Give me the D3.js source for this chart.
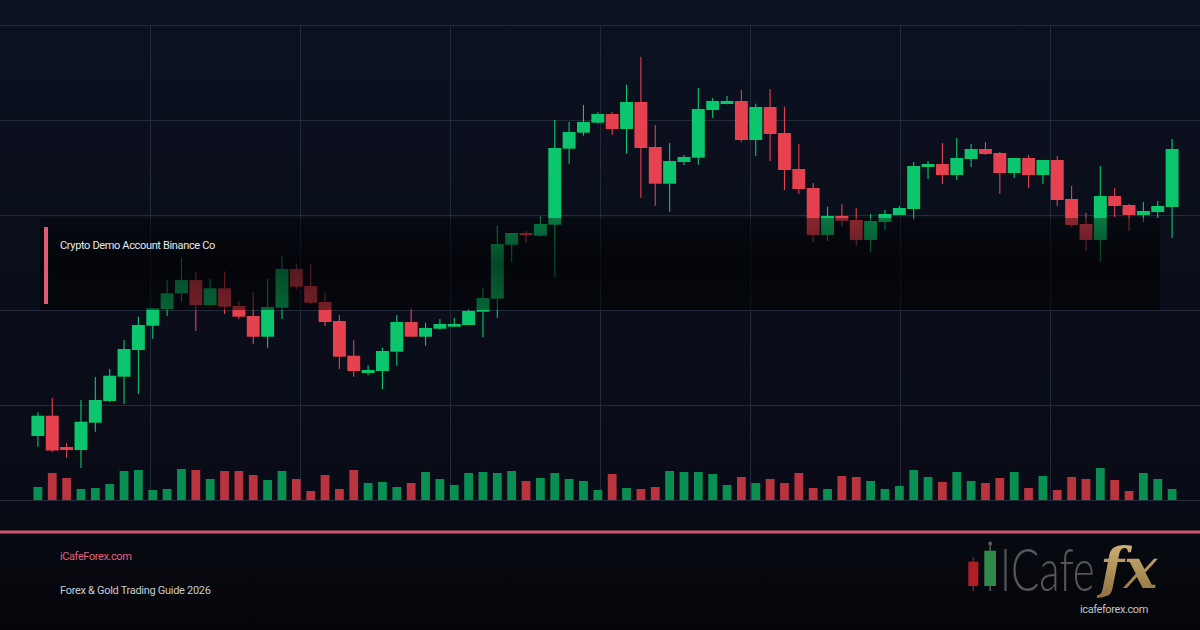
<!DOCTYPE html>
<html>
<head>
<meta charset="utf-8">
<script src="https://cdn.jsdelivr.net/npm/d3@7"></script>
<style>
  html, body { margin: 0; padding: 0; background: #0b0f1b; }
  svg { display: block; }
</style>
</head>
<body>
<div id="canvas"></div>
<script>
// OHLC values (price units), one entry per candle
const open  = [64, 84.3, 53, 50, 77.3, 99, 123.3, 150, 174.3, 191, 206.7, 220, 195, 211.7, 194, 184, 163.3, 192.3, 231, 214,
               198, 179, 144.3, 127, 129, 148.3, 178, 163.3, 171.3, 173.3, 175, 188.3, 201.3, 255.3, 267, 264.3, 275.3, 351.3, 367.3, 377.3,
               386, 371, 398, 353, 316.3, 338, 342.3, 390, 396, 399, 360, 393, 367, 331, 312, 265, 284, 280, 260, 278,
               285, 291, 333, 336, 325, 341, 351, 347, 327, 342, 325, 340, 301, 276, 260, 304, 295, 285, 288, 293];
const high  = [87.7, 102.3, 57, 100, 123, 131, 160, 183.3, 192, 220, 242, 228, 221, 228.5, 199, 208, 221, 244, 236.7, 236,
               207.3, 185, 160, 135, 152.3, 185, 192.3, 177.3, 181, 182, 191, 212, 274, 267, 269, 283.3, 380, 378, 395, 387.7,
               387.7, 415.3, 443.3, 375, 357, 345, 412, 402, 404, 410, 396.3, 411, 393.3, 356, 317, 293.3, 296, 292, 286, 290,
               294, 338, 339, 357, 362, 356, 358, 348, 342, 345, 340, 344, 314, 287, 334, 312, 296, 298, 299, 361];
const low   = [53.3, 48, 42, 32, 68.3, 98, 96, 106, 161.3, 184, 198.3, 169, 194, 186, 180.7, 156, 152.3, 181, 210.7, 196,
               174, 131, 123.3, 125, 111, 134.3, 163.3, 154.3, 170.3, 173.3, 174.7, 162.7, 182.3, 237.7, 257.3, 263.3, 223, 336.3, 364.3, 376.3,
               365.3, 346.3, 302.3, 294.3, 288.3, 335, 335.3, 382, 395.7, 358, 344, 339, 310, 306, 258, 259, 274, 254, 248, 270,
               285, 280.5, 321, 316, 320, 333, 345, 306, 322, 312, 316, 294, 273, 249, 238, 283, 269, 278, 282, 262];
const close = [84.3, 49.5, 50, 78.3, 100, 124.3, 151, 175, 191.7, 206.7, 220, 195, 211.7, 193.3, 183.3, 163.3, 193, 231, 213.3, 197.3,
               178, 143.3, 129, 130, 149, 178, 163.3, 172, 176, 176, 189, 202, 256, 267, 264.7, 276, 352, 368, 378, 386,
               371, 398, 352, 316.3, 339, 343, 391, 399, 399, 360, 393, 366, 330, 311, 265, 284, 279.3, 260, 279, 286,
               292, 334, 336, 325, 342, 351, 346, 327, 342, 325, 340, 300, 275, 260, 304, 294, 285, 289, 294, 351];
const volume = [130, 270, 220, 110, 120, 160, 290, 300, 100, 110, 310, 300, 210, 290, 290, 250, 200, 290, 210, 90,
                250, 110, 300, 170, 180, 130, 170, 280, 210, 150, 270, 280, 270, 290, 190, 220, 270, 210, 190, 100,
                260, 120, 110, 130, 290, 280, 280, 260, 150, 230, 170, 210, 170, 270, 120, 110, 240, 230, 190, 110,
                140, 300, 230, 180, 280, 190, 170, 220, 280, 120, 240, 100, 230, 210, 320, 200, 90, 270, 210, 110];

const priceGrid = [0, 95, 190, 285, 380, 475];
const timeGrid = [1, 2, 3, 4, 5, 6, 7];

const overlayTitle = "Crypto Demo Account Binance Co";
const footerSite = "iCafeForex.com";
const footerTitle = "Forex & Gold Trading Guide 2026";
const logoWord = "ICafe";
const logoFx = "fx";
const logoUrl = "icafeforex.com";

const W = 1200, H = 630;
const green = "#0cc66d", red = "#e5414f";
const volGreen = "#0a8f52", volRed = "#b9343f";

const svg = d3.select("#canvas")
    .append("svg")
    .attr("width", W)
    .attr("height", H);

const defs = svg.append("defs");

const bg = defs.append("linearGradient").attr("id", "bg")
    .attr("x1", 0).attr("y1", 0).attr("x2", 0).attr("y2", 1);
bg.append("stop").attr("offset", "0%").attr("stop-color", "#0c1120");
bg.append("stop").attr("offset", "79%").attr("stop-color", "#090c16");
bg.append("stop").attr("offset", "100%").attr("stop-color", "#040508");

const shade = defs.append("linearGradient").attr("id", "shade")
    .attr("x1", 0).attr("y1", 0).attr("x2", 0).attr("y2", 1);
shade.append("stop").attr("offset", "0%").attr("stop-color", "#000").attr("stop-opacity", 0.4);
shade.append("stop").attr("offset", "50%").attr("stop-color", "#000").attr("stop-opacity", 0.64);
shade.append("stop").attr("offset", "100%").attr("stop-color", "#000").attr("stop-opacity", 0.5);

const gold = defs.append("linearGradient").attr("id", "gold")
    .attr("x1", 0).attr("y1", 0).attr("x2", 0).attr("y2", 1);
gold.append("stop").attr("offset", "0%").attr("stop-color", "#d8bb7c");
gold.append("stop").attr("offset", "100%").attr("stop-color", "#8c6d3c");

svg.append("rect").attr("width", W).attr("height", H).attr("fill", "url(#bg)");

// Scales
const x = d3.scaleBand()
    .domain(d3.range(open.length))
    .range([30, 1180])
    .padding(0.1);
const cx = i => x(i) + x.bandwidth() / 2;

const y = d3.scaleLinear().domain([0, 475]).range([500, 25]);
const gx = d3.scaleLinear().domain([0, 8]).range([0, W]);
const v = d3.scaleLinear().domain([0, 400]).range([500, 460]);

// Grid
const grid = svg.append("g").attr("stroke", "#222a3c").attr("stroke-width", 1);
grid.selectAll("line.h")
    .data(priceGrid)
    .join("line")
    .attr("x1", 0).attr("x2", W)
    .attr("y1", d => Math.round(y(d)) + 0.5)
    .attr("y2", d => Math.round(y(d)) + 0.5);
grid.selectAll("line.v")
    .data(timeGrid)
    .join("line")
    .attr("x1", d => gx(d) + 0.5).attr("x2", d => gx(d) + 0.5)
    .attr("y1", y(475)).attr("y2", y(0));

const idx = d3.range(open.length);

// Volume bars
svg.append("g")
    .selectAll("rect")
    .data(idx)
    .join("rect")
    .attr("x", i => cx(i) - x.bandwidth() * 0.34)
    .attr("width", x.bandwidth() * 0.68)
    .attr("y", i => v(volume[i]))
    .attr("height", i => v(0) - v(volume[i]))
    .attr("fill", i => close[i] >= open[i] ? volGreen : volRed);

// Wicks
svg.append("g")
    .selectAll("line")
    .data(idx)
    .join("line")
    .attr("x1", cx).attr("x2", cx)
    .attr("y1", i => y(high[i]))
    .attr("y2", i => y(low[i]))
    .attr("stroke", i => close[i] >= open[i] ? green : red)
    .attr("stroke-width", 1.1);

// Bodies
svg.append("g")
    .selectAll("rect")
    .data(idx)
    .join("rect")
    .attr("x", i => x(i))
    .attr("width", x.bandwidth())
    .attr("y", i => y(Math.max(open[i], close[i])))
    .attr("height", i => Math.max(2, Math.abs(y(open[i]) - y(close[i]))))
    .attr("fill", i => close[i] >= open[i] ? green : red);

// Dark caption band laid over the chart
svg.append("rect")
    .attr("x", 40).attr("y", 218)
    .attr("width", 1120).attr("height", 92)
    .attr("fill", "url(#shade)");
svg.append("rect")
    .attr("x", 44).attr("y", 227)
    .attr("width", 4).attr("height", 77)
    .attr("fill", "#e05a74");
svg.append("text")
    .attr("x", 60).attr("y", 249)
    .attr("font-family", "Roboto, 'Noto Sans', sans-serif")
    .attr("font-size", 11)
    .attr("letter-spacing", -0.35)
    .attr("fill", "#e6e8ec")
    .text(overlayTitle);

// Footer
svg.append("rect")
    .attr("x", 0).attr("y", 530.5)
    .attr("width", W).attr("height", 3)
    .attr("fill", "#cc566f");

svg.append("text")
    .attr("x", 60).attr("y", 560)
    .attr("font-family", "Roboto, 'Noto Sans', sans-serif")
    .attr("font-size", 11)
    .attr("letter-spacing", -0.4)
    .attr("fill", "#e2617f")
    .text(footerSite);
svg.append("text")
    .attr("x", 60).attr("y", 594)
    .attr("font-family", "Roboto, 'Noto Sans', sans-serif")
    .attr("font-size", 11)
    .attr("letter-spacing", -0.3)
    .attr("fill", "#c9ccd3")
    .text(footerTitle);

// Logo
const logo = svg.append("g");
logo.append("line").attr("x1", 973.3).attr("x2", 973.3).attr("y1", 557).attr("y2", 591)
    .attr("stroke", "#7a1e22").attr("stroke-width", 1.5);
logo.append("rect").attr("x", 968.3).attr("y", 561.7).attr("width", 10).attr("height", 24.3)
    .attr("fill", "#b01f26");
logo.append("line").attr("x1", 990.2).attr("x2", 990.2).attr("y1", 543).attr("y2", 591)
    .attr("stroke", "#5a5a5a").attr("stroke-width", 1.5);
logo.append("circle").attr("cx", 990.2).attr("cy", 543.5).attr("r", 2).attr("fill", "#5a5a5a");
logo.append("rect").attr("x", 984.3).attr("y", 550.7).attr("width", 11.7).attr("height", 35.3)
    .attr("fill", "#2f8a4a");

// "ICafe" squeezed horizontally so its box ends before "fx"
const word = logo.append("text")
    .attr("transform", "translate(1000,591) scale(0.7,1)")
    .attr("font-family", "Lato, 'Open Sans', sans-serif")
    .attr("font-weight", 300)
    .attr("font-size", 60)
    .attr("fill", "#575757")
    .text(logoWord);
const wordW = word.node().getBBox().width * 0.7;
if (wordW > 97) word.attr("transform", `translate(1000,591) scale(${0.7 * 97 / wordW},1)`);

logo.append("text")
    .attr("x", 1100).attr("y", 588)
    .attr("font-family", "'DejaVu Serif', 'Liberation Serif', serif")
    .attr("font-style", "italic")
    .attr("font-weight", "bold")
    .attr("font-size", 56)
    .attr("fill", "url(#gold)")
    .text(logoFx);
logo.append("text")
    .attr("x", 1080).attr("y", 613)
    .attr("font-family", "Roboto, 'Noto Sans', sans-serif")
    .attr("font-size", 11)
    .attr("letter-spacing", -0.4)
    .attr("fill", "#c3c3c3")
    .text(logoUrl);
</script>
</body>
</html>
